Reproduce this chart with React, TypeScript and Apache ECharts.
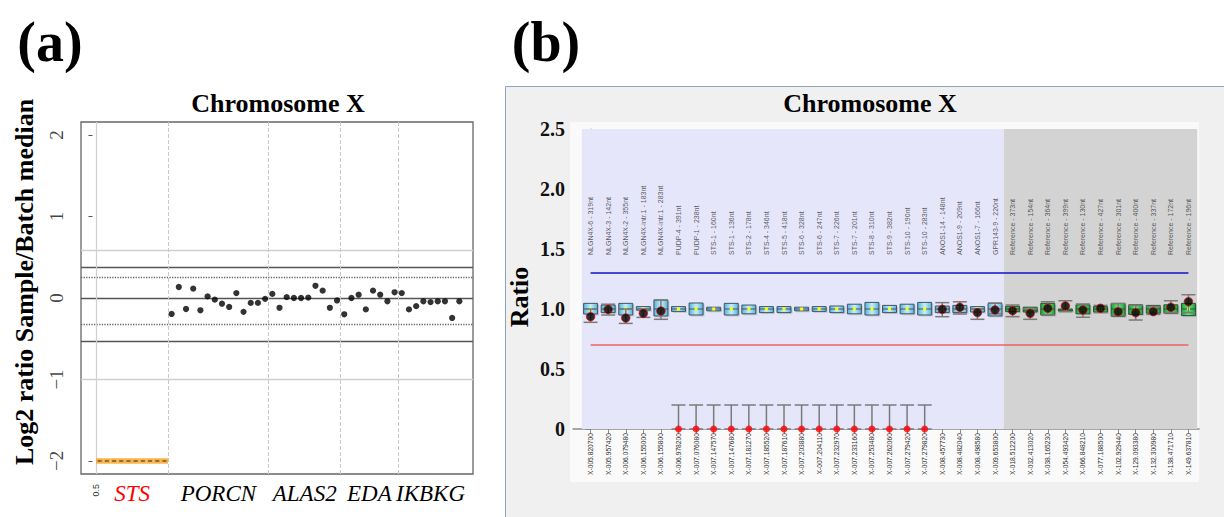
import React, { useEffect, useRef } from "react";
import * as echarts from "echarts";

// ---------------- Panel (a) data ----------------
const geneNames = ["STS", "PORCN", "ALAS2", "EDA", "IKBKG"];
const deletedGene = "STS";
const geneLabelX = [5.5, 17.5, 29.5, 38.5, 47];
const geneBoundaryX = [10.5, 24.5, 34.5, 42.5];
const aXTicks = [0.5];
const aYTicks = [-2, -1, 0, 1, 2];
const stsProbeX = [1, 2, 3, 4, 5, 6, 7, 8, 9, 10];
const stsLog2 = [-2, -2, -2, -2, -2, -2, -2, -2, -2, -2];
const otherProbeX = [
  11, 12, 13, 14, 15, 16, 17, 18, 19, 20, 21, 22, 23, 24, 25, 26, 27, 28, 29, 30, 31,
  32, 33, 34, 35, 36, 37, 38, 39, 40, 41, 42, 43, 44, 45, 46, 47, 48, 49, 50, 51,
];
const otherLog2 = [
  -0.196, 0.135, -0.135, 0.115, -0.151, 0.02, -0.02, -0.07, -0.11, 0.06, -0.17, -0.06,
  -0.06, -0.01, 0.05, -0.12, 0.01, 0.0, 0.0, 0.005, 0.15, 0.09, -0.12, -0.03, -0.2, 0.0,
  0.04, -0.14, 0.09, 0.04, -0.04, 0.07, 0.06, -0.14, -0.1, -0.04, -0.05, -0.04, -0.04,
  -0.245, -0.04,
];
const strongThresholds = [0.38, 0, -0.53];
const dottedThresholds = [0.26, -0.32];
const lightThresholds = [0.585, -1];

// ---------------- Panel (b) data ----------------
const probeNames = [
  "NLGN4X-6 - 319nt", "NLGN4X-3 - 142nt", "NLGN4X-2 - 355nt", "NLGN4X-intr.1 - 183nt",
  "NLGN4X-intr.1 - 283nt", "PUDP-4 - 391nt", "PUDP-1 - 238nt", "STS-1 - 160nt",
  "STS-1 - 136nt", "STS-2 - 178nt", "STS-4 - 346nt", "STS-5 - 418nt", "STS-6 - 328nt",
  "STS-6 - 247nt", "STS-7 - 226nt", "STS-7 - 201nt", "STS-8 - 310nt", "STS-9 - 382nt",
  "STS-10 - 190nt", "STS-10 - 283nt", "ANOS1-14 - 148nt", "ANOS1-9 - 209nt",
  "ANOS1-7 - 166nt", "GPR143-9 - 220nt", "Reference - 373nt", "Reference - 154nt",
  "Reference - 364nt", "Reference - 399nt", "Reference - 130nt", "Reference - 427nt",
  "Reference - 301nt", "Reference - 400nt", "Reference - 337nt", "Reference - 172nt",
  "Reference - 196nt",
];
const probePositions = [
  "X-005.820700", "X-005.957420", "X-006.079480", "X-006.155000", "X-006.155800",
  "X-006.978200", "X-007.076080", "X-007.147570", "X-007.147680", "X-007.181270",
  "X-007.185520", "X-007.187610", "X-007.203880", "X-007.204110", "X-007.232970",
  "X-007.233160", "X-007.253480", "X-007.262060", "X-007.279420", "X-007.279820",
  "X-008.457730", "X-008.482040", "X-008.498580", "X-009.653800", "X-018.512200",
  "X-032.413020", "X-038.165230", "X-054.493420", "X-066.848210", "X-077.188500",
  "X-102.929440", "X-129.093380", "X-132.300980", "X-138.471710", "X-149.637810",
];
const boxLow = [
  0.958, 0.97, 0.95, 0.99, 0.942, 0.98, 0.95, 0.985, 0.95, 0.96, 0.97, 0.97, 0.985, 0.98,
  0.97, 0.96, 0.95, 0.97, 0.96, 0.95, 0.97, 0.97, 0.975, 0.942, 0.978, 0.975, 0.95, 0.985,
  0.96, 0.975, 0.94, 0.955, 0.965, 0.965, 0.945,
];
const boxHigh = [
  1.047, 1.033, 1.047, 1.02, 1.075, 1.02, 1.05, 1.015, 1.047, 1.033, 1.02, 1.02, 1.015,
  1.02, 1.025, 1.04, 1.055, 1.03, 1.04, 1.055, 1.025, 1.03, 1.02, 1.047, 1.022, 1.015,
  1.047, 1.0, 1.035, 1.02, 1.047, 1.035, 1.03, 1.035, 1.047,
];
const boxMedian = [
  1.0, 1.0, 1.0, 1.0, 1.0, 1.0, 1.0, 1.0, 1.0, 1.0, 1.0, 1.0, 1.0, 1.0, 1.0, 1.0, 1.0,
  1.0, 1.0, 1.0, 1.0, 1.0, 1.0, 1.0, 1.0, 0.99, 1.0, 0.99, 1.0, 1.0, 1.0, 1.0, 1.0, 1.0,
  1.0,
];
const sampleRatio = [
  0.936, 0.997, 0.925, 0.964, 0.983, 0, 0, 0, 0, 0, 0, 0, 0, 0, 0, 0, 0, 0, 0, 0, 0.997,
  1.014, 0.97, 0.992, 0.986, 0.964, 1.006, 1.025, 0.992, 1.006, 0.978, 0.97, 0.978, 1.014,
  1.061,
];
const errLow = [
  0.889, 0.95, 0.88, 0.93, 0.914, 0, 0, 0, 0, 0, 0, 0, 0, 0, 0, 0, 0, 0, 0, 0, 0.936,
  0.958, 0.914, 0.96, 0.936, 0.914, 0.95, 0.978, 0.931, 0.97, 0.95, 0.908, 0.955, 0.97,
  0.97,
];
const errHigh = [
  1.0, 1.04, 1.0, 1.0, 1.075, 0.2, 0.2, 0.2, 0.2, 0.2, 0.2, 0.2, 0.2, 0.2, 0.2, 0.2, 0.2,
  0.2, 0.2, 0.2, 1.053, 1.06, 1.0, 1.05, 1.033, 1.0, 1.06, 1.069, 1.042, 1.03, 1.045,
  1.03, 1.02, 1.069, 1.119,
];
const upperLimit = 1.3;
const lowerLimit = 0.7;
const bYTicks = [0, 0.5, 1, 1.5, 2, 2.5];

const SERIF = '"Liberation Serif", "Times New Roman", serif';
const SANS = '"Liberation Sans", Arial, sans-serif';

const A_XMIN = -1.6;
const A_XMAX = 52.9;

function buildOption() {
  const probeIdx = probeNames.map((_, i) => i);
  const isRef = probeNames.map((n) => (n.startsWith("Reference") ? 1 : 0));
  const firstRef = isRef.indexOf(1);
  const lastIdx = probeNames.length - 1;

  const renderBox = (params: any, api: any) => {
    const x = api.value(0);
    const lo = api.value(1);
    const hi = api.value(2);
    const med = api.value(3);
    const ref = api.value(4);
    const pTop = api.coord([x, hi]);
    const pBot = api.coord([x, lo]);
    const pMed = api.coord([x, med]);
    const w = 14;
    const edge = ref ? "#14a636" : "#58b2d8";
    const mid = ref ? "#66e684" : "#c4f0fc";
    const stroke = ref ? "#2b5236" : "#3e5566";
    const h = Math.max(pBot[1] - pTop[1], 2);
    return {
      type: "group",
      children: [
        {
          type: "rect",
          shape: { x: pTop[0] - w / 2 + 1.5, y: pTop[1] + 1.5, width: w, height: h },
          style: { fill: "rgba(60,60,60,0.18)" },
        },
        {
          type: "rect",
          shape: { x: pTop[0] - w / 2, y: pTop[1], width: w, height: h },
          style: {
            fill: new echarts.graphic.LinearGradient(0, 0, 1, 0, [
              { offset: 0, color: edge },
              { offset: 0.5, color: mid },
              { offset: 1, color: edge },
            ]),
            stroke,
            lineWidth: 1,
          },
        },
        {
          type: "line",
          shape: { x1: pTop[0] - w / 2, y1: pMed[1], x2: pTop[0] + w / 2, y2: pMed[1] },
          style: { stroke, lineWidth: 1 },
        },
        {
          type: "rect",
          shape: { x: pMed[0] - 1.5, y: pMed[1] - 1.5, width: 3, height: 3 },
          style: { fill: "#ffff00" },
        },
      ],
    };
  };

  const renderErr = (params: any, api: any) => {
    const x = api.value(0);
    const a = api.coord([x, api.value(1)]);
    const b = api.coord([x, api.value(2)]);
    const cw = 7;
    const st = { stroke: "#7a7a7a", lineWidth: 1.5 };
    return {
      type: "group",
      children: [
        { type: "line", shape: { x1: a[0], y1: a[1], x2: b[0], y2: b[1] }, style: st },
        { type: "line", shape: { x1: a[0] - cw, y1: a[1], x2: a[0] + cw, y2: a[1] }, style: st },
        { type: "line", shape: { x1: b[0] - cw, y1: b[1], x2: b[0] + cw, y2: b[1] }, style: st },
      ],
    };
  };

  const hLine = (y: number, color: string, type: string, width: number) => ({
    yAxis: y,
    lineStyle: { color, type, width },
  });

  return {
    animation: false,
    backgroundColor: "#ffffff",
    grid: [
      {
        left: 81,
        top: 122,
        width: 392,
        height: 352,
        show: true,
        borderColor: "#666",
        borderWidth: 1.3,
        backgroundColor: "rgba(0,0,0,0)",
        containLabel: false,
        outerBoundsMode: "none",
      },
      {
        left: 573,
        top: 129,
        width: 626,
        height: 300,
        show: false,
        containLabel: false,
        outerBoundsMode: "none",
      },
    ],
    xAxis: [
      {
        gridIndex: 0,
        type: "value",
        min: A_XMIN,
        max: A_XMAX,
        position: "bottom",
        axisLine: { show: false },
        splitLine: { show: false },
        axisTick: { show: true, customValues: aXTicks, length: 6, lineStyle: { color: "#555" } },
        axisLabel: {
          show: true,
          customValues: aXTicks,
          rotate: 90,
          fontSize: 9,
          fontFamily: SANS,
          color: "#333",
          margin: 10,
          formatter: (v: number) => String(v),
        },
      },
      {
        gridIndex: 0,
        type: "value",
        min: A_XMIN,
        max: A_XMAX,
        position: "bottom",
        axisLine: { show: false },
        splitLine: { show: false },
        axisTick: { show: false },
        axisLabel: {
          show: true,
          customValues: geneLabelX,
          margin: 8,
          formatter: (v: number) => {
            const i = geneLabelX.findIndex((g) => Math.abs(g - v) < 1e-6);
            const name = geneNames[i] ?? "";
            return name === deletedGene ? `{del|${name}}` : `{gene|${name}}`;
          },
          rich: {
            del: { color: "#ff0000", fontStyle: "italic", fontFamily: SERIF, fontSize: 23 },
            gene: { color: "#000", fontStyle: "italic", fontFamily: SERIF, fontSize: 23 },
          },
        },
      },
      {
        gridIndex: 1,
        type: "value",
        min: -1,
        max: 34.6,
        position: "bottom",
        axisLine: { show: true, lineStyle: { color: "#8a8a8a", width: 1.5 } },
        splitLine: { show: false },
        axisTick: { show: true, customValues: probeIdx, length: 4, lineStyle: { color: "#8a8a8a" } },
        axisLabel: {
          show: true,
          customValues: probeIdx,
          rotate: 90,
          fontSize: 6.7,
          fontFamily: SANS,
          color: "#333",
          margin: 4,
          formatter: (v: number) => probePositions[Math.round(v)] ?? "",
        },
      },
    ],
    yAxis: [
      {
        gridIndex: 0,
        type: "value",
        min: -2.16,
        max: 2.16,
        axisLine: { show: false },
        splitLine: { show: false },
        axisTick: { show: true, customValues: aYTicks, length: 4, lineStyle: { color: "#555" } },
        axisLabel: { show: false },
      },
      {
        gridIndex: 1,
        type: "value",
        min: 0,
        max: 2.5,
        interval: 0.5,
        axisLine: { show: true, lineStyle: { color: "#f2a0a0", width: 1.5 } },
        splitLine: { show: false },
        axisTick: { show: true, customValues: bYTicks, length: 5, lineStyle: { color: "#888" } },
        axisLabel: {
          show: true,
          customValues: bYTicks,
          fontSize: 20,
          fontWeight: "bold",
          fontFamily: SERIF,
          color: "#111",
          margin: 8,
          formatter: (v: number) => (v === 0 ? "0" : v.toFixed(1)),
        },
      },
    ],
    graphic: [
      {
        type: "rect",
        z: 0,
        silent: true,
        shape: { x: 505.5, y: 86.5, width: 730, height: 440 },
        style: { fill: "#f0f0f0", stroke: "#8ea3c2", lineWidth: 1 },
      },
      {
        type: "rect",
        z: 0,
        silent: true,
        shape: { x: 570, y: 122, width: 629, height: 360 },
        style: { fill: "#fafafa" },
      },
      {
        type: "text",
        z: 10,
        x: 50,
        y: 42,
        style: { text: "(a)", font: `bold 56px ${SERIF}`, fill: "#000", align: "center", verticalAlign: "middle" },
      },
      {
        type: "text",
        z: 10,
        x: 546,
        y: 42,
        style: { text: "(b)", font: `bold 56px ${SERIF}`, fill: "#000", align: "center", verticalAlign: "middle" },
      },
      {
        type: "text",
        z: 10,
        x: 278,
        y: 103,
        style: { text: "Chromosome X", font: `bold 26px ${SERIF}`, fill: "#000", align: "center", verticalAlign: "middle" },
      },
      {
        type: "text",
        z: 10,
        x: 870,
        y: 103,
        style: { text: "Chromosome X", font: `bold 26px ${SERIF}`, fill: "#000", align: "center", verticalAlign: "middle" },
      },
      {
        type: "text",
        z: 10,
        x: 24,
        y: 282,
        rotation: Math.PI / 2,
        style: {
          text: "Log2 ratio Sample/Batch median",
          font: `bold 26px ${SERIF}`,
          fill: "#000",
          align: "center",
          verticalAlign: "middle",
        },
      },
      {
        type: "text",
        z: 10,
        x: 519,
        y: 297,
        rotation: Math.PI / 2,
        style: { text: "Ratio", font: `bold 26px ${SERIF}`, fill: "#000", align: "center", verticalAlign: "middle" },
      },
    ],
    series: [
      // ---------- panel (a) ----------
      {
        type: "scatter",
        name: "yTickLabelsA",
        xAxisIndex: 0,
        yAxisIndex: 0,
        z: 8,
        clip: false,
        silent: true,
        symbolSize: 0,
        data: aYTicks.map((v) => [A_XMIN, v]),
        label: {
          show: true,
          position: [-15, 0],
          rotate: 90,
          align: "center",
          verticalAlign: "bottom",
          fontSize: 19,
          fontFamily: SERIF,
          color: "#111",
          formatter: (p: any) => String(aYTicks[p.dataIndex]).replace("-", "\u2212"),
        },
      },
      {
        type: "scatter",
        name: "probes",
        xAxisIndex: 0,
        yAxisIndex: 0,
        z: 5,
        symbol: "circle",
        symbolSize: 6.2,
        itemStyle: { color: "#000" },
        data: otherProbeX.map((x, i) => [x, otherLog2[i]]),
        markLine: {
          silent: true,
          symbol: "none",
          label: { show: false },
          animation: false,
          data: [
            ...lightThresholds.map((y) => hLine(y, "#cfcfcf", "solid", 1.3)),
            ...strongThresholds.map((y) => hLine(y, "#555", "solid", 1.3)),
            ...dottedThresholds.map((y) => hLine(y, "#666", "dotted", 1.3)),
            { xAxis: aXTicks[0], lineStyle: { color: "#d0d0d0", type: "solid", width: 1.2 } },
            ...geneBoundaryX.map((x) => ({ xAxis: x, lineStyle: { color: "#c8c8c8", type: "dashed", width: 1 } })),
          ],
        },
      },
      {
        type: "scatter",
        name: "sts",
        xAxisIndex: 0,
        yAxisIndex: 0,
        z: 6,
        symbol: "rect",
        symbolSize: [7.3, 5.5],
        itemStyle: { color: "#f3a125" },
        data: stsProbeX.map((x, i) => [x, stsLog2[i]]),
      },
      {
        type: "scatter",
        name: "stsDash",
        xAxisIndex: 0,
        yAxisIndex: 0,
        z: 7,
        symbol: "rect",
        symbolSize: [4, 1.8],
        itemStyle: { color: "#7c5208" },
        data: stsProbeX.map((x, i) => [x, stsLog2[i]]),
      },
      // ---------- panel (b) ----------
      {
        type: "scatter",
        name: "regions",
        xAxisIndex: 2,
        yAxisIndex: 1,
        z: 1,
        symbolSize: 0,
        data: [[-0.5, 0]],
        markArea: {
          silent: true,
          data: [
            [
              { xAxis: -0.5, yAxis: 0, itemStyle: { color: "#e6e6fa" } },
              { xAxis: firstRef - 0.5, yAxis: 2.5 },
            ],
            [
              { xAxis: firstRef - 0.5, yAxis: 0, itemStyle: { color: "#d3d3d3" } },
              { xAxis: lastIdx + 0.5, yAxis: 2.5 },
            ],
          ],
        },
        markLine: {
          silent: true,
          symbol: "none",
          label: { show: false },
          data: [
            [
              { coord: [0, upperLimit], lineStyle: { color: "#1010c8", width: 1.5, type: "solid" } },
              { coord: [lastIdx, upperLimit] },
            ],
            [
              { coord: [0, lowerLimit], lineStyle: { color: "#f06060", width: 1.5, type: "solid" } },
              { coord: [lastIdx, lowerLimit] },
            ],
          ],
        },
      },
      {
        type: "custom",
        name: "boxes",
        xAxisIndex: 2,
        yAxisIndex: 1,
        z: 3,
        renderItem: renderBox,
        encode: { x: 0, y: [1, 2] },
        data: probeIdx.map((i) => [i, boxLow[i], boxHigh[i], boxMedian[i], isRef[i]]),
      },
      {
        type: "custom",
        name: "errors",
        xAxisIndex: 2,
        yAxisIndex: 1,
        z: 4,
        renderItem: renderErr,
        encode: { x: 0, y: [1, 2] },
        data: probeIdx.map((i) => [i, errLow[i], errHigh[i]]),
      },
      {
        type: "scatter",
        name: "sample",
        xAxisIndex: 2,
        yAxisIndex: 1,
        z: 6,
        clip: false,
        symbolSize: 8.5,
        itemStyle: { color: "#000", borderColor: "#e00000", borderWidth: 0.9 },
        data: probeIdx.filter((i) => sampleRatio[i] > 0).map((i) => [i, sampleRatio[i]]),
      },
      {
        type: "scatter",
        name: "deleted",
        xAxisIndex: 2,
        yAxisIndex: 1,
        z: 6,
        clip: false,
        symbolSize: 7,
        itemStyle: { color: "#ff0000" },
        data: probeIdx.filter((i) => sampleRatio[i] === 0).map((i) => [i, sampleRatio[i]]),
      },
      {
        type: "scatter",
        name: "probeNames",
        xAxisIndex: 2,
        yAxisIndex: 1,
        z: 5,
        symbolSize: 0,
        silent: true,
        data: probeIdx.map((i) => [i, 1.45]),
        label: {
          show: true,
          position: [0, 0],
          rotate: 90,
          align: "left",
          verticalAlign: "middle",
          fontSize: 7,
          fontFamily: SANS,
          color: "#333",
          formatter: (p: any) => probeNames[p.dataIndex],
        },
      },
    ],
  };
}

export default function App() {
  const ref = useRef<HTMLDivElement>(null);
  useEffect(() => {
    if (!ref.current) return;
    const chart = echarts.init(ref.current, null, { renderer: "svg" });
    chart.setOption(buildOption() as any);
    return () => chart.dispose();
  }, []);
  return (
    <div
      ref={ref}
      style={{ position: "absolute", left: 0, top: 0, width: 1224, height: 517, background: "#fff" }}
    />
  );
}
